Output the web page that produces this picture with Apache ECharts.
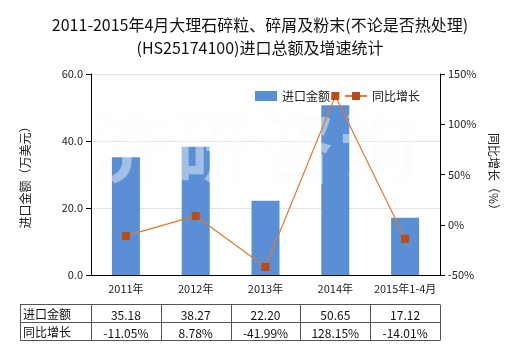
<!DOCTYPE html>
<html>
<head>
<meta charset="utf-8">
<script src="https://cdn.jsdelivr.net/npm/echarts@6/dist/echarts.min.js"></script>
<style>
html,body{margin:0;padding:0;background:#fff;}
#c{width:520px;height:350px;}
</style>
</head>
<body>
<div id="c"></div>
<script>
const titleText = '2011-2015年4月大理石碎粒、碎屑及粉末(不论是否热处理)\n(HS25174100)进口总额及增速统计';
const categories = ['2011年', '2012年', '2013年', '2014年', '2015年1-4月'];
const importValues = [35.18, 38.27, 22.20, 50.65, 17.12];
const growthValues = [-11.05, 8.78, -41.99, 128.15, -14.01];
const importLabels = ['35.18', '38.27', '22.20', '50.65', '17.12'];
const growthLabels = ['-11.05%', '8.78%', '-41.99%', '128.15%', '-14.01%'];
const seriesNames = ['进口金额', '同比增长'];
const leftAxisName = '进口金额（万美元）';
const rightAxisName = '同比增长（%）';
const leftRange = [0, 60, 20];
const rightRange = [-50, 150, 50];
const watermarkChars = ['济', '研', '咨', '询'];

const FONT = '"Noto Sans CJK SC", "Noto Sans", sans-serif';
const chart = echarts.init(document.getElementById('c'));
const gridL = 91, gridR = 80, gridT = 74, gridB = 75;

chart.setOption({
  animation: false,
  textStyle: { fontFamily: FONT },
  title: {
    text: titleText,
    left: 'center',
    top: 8,
    textStyle: { fontSize: 16, fontWeight: 'normal', color: '#111', lineHeight: 23, fontFamily: FONT }
  },
  legend: {
    left: 250, top: 85,
    itemWidth: 22, itemHeight: 10, itemGap: 14,
    textStyle: { fontSize: 12, color: '#222', fontFamily: FONT },
    data: [
      { name: seriesNames[0], icon: 'rect' },
      { name: seriesNames[1] }
    ]
  },
  grid: { left: gridL, right: gridR, top: gridT, bottom: gridB },
  xAxis: {
    type: 'category',
    data: categories,
    axisLine: { lineStyle: { color: '#000', width: 1 } },
    axisTick: { alignWithLabel: true, length: 5, lineStyle: { color: '#000' } },
    axisLabel: { fontSize: 11, color: '#222', margin: 8, interval: 0 }
  },
  yAxis: [
    {
      type: 'value', min: leftRange[0], max: leftRange[1], interval: leftRange[2],
      name: leftAxisName, nameLocation: 'middle', nameGap: 60, nameRotate: 90,
      nameTextStyle: { fontSize: 12, color: '#222' },
      axisLine: { show: true, lineStyle: { color: '#000' } },
      axisTick: { show: true, length: 5, lineStyle: { color: '#000' } },
      axisLabel: { fontSize: 11, color: '#222', formatter: v => v.toFixed(1) },
      splitLine: { show: true, lineStyle: { color: '#e3e3e3' } }
    },
    {
      type: 'value', min: rightRange[0], max: rightRange[1], interval: rightRange[2],
      name: rightAxisName, nameLocation: 'middle', nameGap: 46, nameRotate: -90,
      nameTextStyle: { fontSize: 12, color: '#222' },
      axisLine: { show: true, lineStyle: { color: '#000' } },
      axisTick: { show: true, length: 5, lineStyle: { color: '#000' } },
      axisLabel: { fontSize: 11, color: '#222', formatter: v => v + '%' },
      splitLine: { show: false }
    }
  ],
  series: [
    {
      name: seriesNames[0], type: 'bar', data: importValues, yAxisIndex: 0,
      barWidth: 28, itemStyle: { color: '#5A8FD5' }, z: 2
    },
    {
      name: seriesNames[1], type: 'line', data: growthValues, yAxisIndex: 1,
      symbol: 'rect', symbolSize: 8,
      lineStyle: { color: '#E07A2E', width: 1.2 },
      itemStyle: { color: '#BB4A14' }, z: 10
    }
  ]
});

// build watermark and data table from the axes
function build() {
  const centers = categories.map(c => chart.convertToPixel({ xAxisIndex: 0 }, c));
  const band = centers[1] - centers[0];
  const elements = [];
  const wmY = chart.convertToPixel({ yAxisIndex: 0 }, 38);
  watermarkChars.forEach((ch, i) => {
    const cx = centers[0] + 2 + i * band * 1.2;
    elements.push({
      type: 'text', z: 5, silent: true,
      style: {
        text: ch, x: cx, y: wmY, align: 'center', verticalAlign: 'middle',
        font: 'bold 78px ' + FONT, fill: 'rgba(250,250,250,0.45)'
      }
    });
  });
  const tableLeft = 20;
  const colEdges = [tableLeft].concat(centers.map(c => c - band / 2)).concat([centers[centers.length - 1] + band / 2]);
  const tableTop = 304, rowH = 18;
  const rows = [importLabels, growthLabels];
  const lineStyle = { stroke: '#555', lineWidth: 1 };
  const right = colEdges[colEdges.length - 1];
  for (let r = 0; r <= rows.length; r++) {
    const y = Math.round(tableTop + r * rowH) + 0.5;
    elements.push({ type: 'line', shape: { x1: tableLeft, y1: y, x2: right, y2: y }, style: lineStyle });
  }
  colEdges.forEach(x => {
    const xx = Math.round(x) + 0.5;
    elements.push({ type: 'line', shape: { x1: xx, y1: tableTop + 0.5, x2: xx, y2: tableTop + rows.length * rowH + 0.5 }, style: lineStyle });
  });
  rows.forEach((row, r) => {
    const cy = tableTop + r * rowH + rowH / 2 + 1;
    elements.push({
      type: 'text',
      style: { text: seriesNames[r], x: tableLeft + 3, y: cy, align: 'left', verticalAlign: 'middle', font: '12px ' + FONT, fill: '#111' }
    });
    row.forEach((t, i) => {
      elements.push({
        type: 'text',
        style: { text: t, x: centers[i], y: cy + 1, align: 'center', verticalAlign: 'middle', font: '12px ' + FONT, fill: '#111' }
      });
    });
  });
  chart.setOption({ graphic: { elements: elements } });
}
build();
</script>
</body>
</html>
